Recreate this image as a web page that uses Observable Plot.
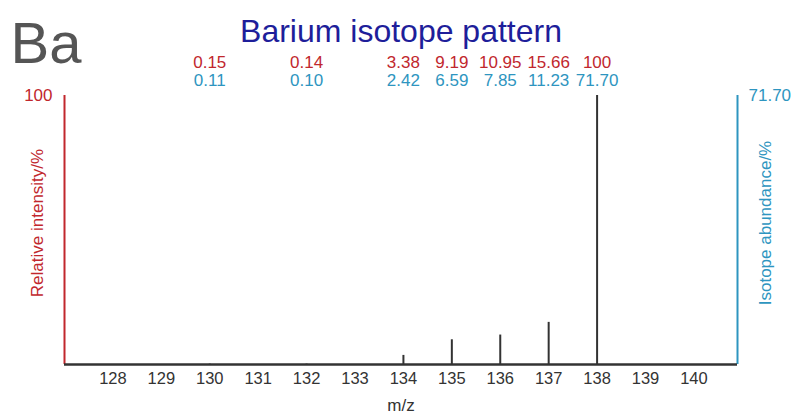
<!DOCTYPE html>
<html>
<head>
<meta charset="utf-8">
<script src="https://cdn.jsdelivr.net/npm/d3@7"></script>
<script src="https://cdn.jsdelivr.net/npm/@observablehq/plot@0.6"></script>
<style>
  html, body { margin: 0; padding: 0; background: white; }
</style>
</head>
<body>
<div id="chart"></div>
<script>
const masses = [130, 132, 134, 135, 136, 137, 138];
const intensity = [0.15, 0.14, 3.38, 9.19, 10.95, 15.66, 100];
const abundance = [0.11, 0.10, 2.42, 6.59, 7.85, 11.23, 71.70];
const xTicks = [128, 129, 130, 131, 132, 133, 134, 135, 136, 137, 138, 139, 140];
const xDomain = [127, 140.9];
const maxAbundance = 71.70;

const RED = "#c1272d";
const BLUE = "#2e95c0";
const NAVY = "#1e1e9a";
const DARK = "#333333";
const FONT = "'Liberation Sans', Arial, Helvetica, sans-serif";

const data = masses.map((m, i) => ({
  mass: m,
  intensity: intensity[i],
  abundance: abundance[i],
  iLabel: intensity[i] === 100 ? "100" : intensity[i].toFixed(2),
  aLabel: abundance[i].toFixed(2)
}));

const chart = Plot.plot({
  width: 796,
  height: 413,
  marginLeft: 64,
  marginRight: 59,
  marginTop: 95,
  marginBottom: 49,
  style: { fontFamily: FONT, background: "white", overflow: "visible" },
  x: { domain: xDomain },
  y: { domain: [0, 100] },
  marks: [
    Plot.axisX({ ticks: xTicks, tickSize: 0, tickPadding: 8, fontSize: 16.5, fill: DARK, label: null }),
    Plot.axisY({ anchor: "left", ticks: [100], tickSize: 0, tickPadding: 12, fontSize: 17, fill: RED, label: null }),
    Plot.axisY({ anchor: "right", ticks: [100], tickSize: 0, tickPadding: 11, fontSize: 17, fill: BLUE, label: null,
      tickFormat: d => (d * maxAbundance / 100).toFixed(2) }),
    Plot.ruleX([xDomain[0]], { stroke: RED, strokeWidth: 2 }),
    Plot.ruleX([xDomain[1]], { stroke: BLUE, strokeWidth: 2 }),
    Plot.ruleY([0], { stroke: DARK, strokeWidth: 2.5 }),
    Plot.ruleX(data, { x: "mass", y1: 0, y2: "intensity", stroke: DARK, strokeWidth: 2 }),
    Plot.text(data, { x: "mass", text: "iLabel", frameAnchor: "top", lineAnchor: "bottom", dy: -28, fill: RED, fontSize: 17 }),
    Plot.text(data, { x: "mass", text: "aLabel", frameAnchor: "top", lineAnchor: "bottom", dy: -10, fill: BLUE, fontSize: 17 }),
    Plot.text(["Barium isotope pattern"], { frameAnchor: "top", lineAnchor: "bottom", dy: -54, fill: NAVY, fontSize: 32 }),
    Plot.text(["Ba"], { frameAnchor: "top-left", textAnchor: "start", lineAnchor: "bottom", dx: -54, dy: -33, fill: "#555555", fontSize: 58 }),
    Plot.text(["m/z"], { frameAnchor: "bottom", lineAnchor: "bottom", dy: 46, fill: DARK, fontSize: 17 }),
    Plot.text(["Relative intensity/%"], { frameAnchor: "left", textAnchor: "middle", rotate: -90, dx: -27, dy: -7, fill: RED, fontSize: 17 }),
    Plot.text(["Isotope abundance/%"], { frameAnchor: "right", textAnchor: "middle", rotate: -90, dx: 28, dy: -7, fill: BLUE, fontSize: 17 })
  ]
});
document.getElementById("chart").appendChild(chart);
</script>
</body>
</html>
